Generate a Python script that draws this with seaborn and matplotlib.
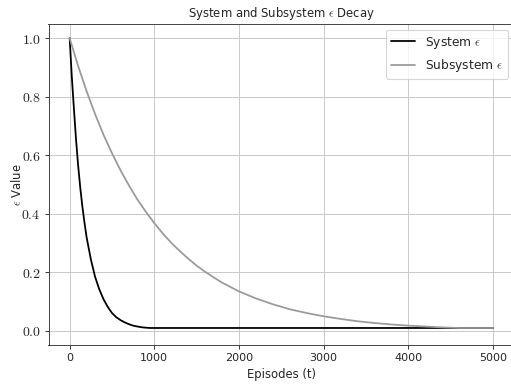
import matplotlib
matplotlib.use('Agg')
import matplotlib.pyplot as plt
import seaborn as sns
import pandas as pd

# values
system_t = [0, 25, 50, 75, 100, 125, 150, 175, 200, 250, 300, 350, 400, 450,
            500, 550, 600, 650, 700, 750, 800, 850, 900, 950, 5000]
system_eps = [1.0, 0.87, 0.76, 0.655, 0.565, 0.49, 0.425, 0.37, 0.32, 0.245,
              0.185, 0.142, 0.108, 0.082, 0.061, 0.047, 0.037, 0.029, 0.023,
              0.018, 0.015, 0.0125, 0.011, 0.01, 0.01]

sub_t = [0, 100, 200, 300, 400, 500, 600, 700, 800, 900, 1000, 1100, 1200,
         1300, 1400, 1500, 1600, 1700, 1800, 1900, 2000, 2200, 2400, 2600, 2800,
         3000, 3200, 3400, 3600, 3800, 4000, 4200, 4400, 4600, 5000]
sub_eps = [1.0, 0.905, 0.819, 0.741, 0.670, 0.607, 0.549, 0.497, 0.449, 0.407,
           0.368, 0.333, 0.301, 0.273, 0.247, 0.223, 0.202, 0.183, 0.165, 0.150,
           0.135, 0.111, 0.091, 0.074, 0.061, 0.050, 0.041, 0.033, 0.027, 0.022,
           0.018, 0.015, 0.012, 0.010, 0.010]

x_ticks = [0, 1000, 2000, 3000, 4000, 5000]
y_ticks = [0.0, 0.2, 0.4, 0.6, 0.8, 1.0]

sns.set_style('ticks')
plt.rcParams['font.family'] = ['DejaVu Sans']
plt.rcParams['mathtext.fontset'] = 'cm'

fig = plt.figure(figsize=(511 / 80, 387 / 80), dpi=80)
ax = fig.add_axes([48.5 / 511, 41.6 / 387, 465.6 / 511, 321.7 / 387])

sys_df = pd.DataFrame({'t': system_t, 'eps': system_eps})
sub_df = pd.DataFrame({'t': sub_t, 'eps': sub_eps})

sns.lineplot(data=sys_df, x='t', y='eps', color='black', linewidth=1.6,
             label=r'System $\epsilon$', ax=ax)
sns.lineplot(data=sub_df, x='t', y='eps', color='#9a9a9a', linewidth=1.6,
             label=r'Subsystem $\epsilon$', ax=ax)

ax.set_xlim(-250, 5250)
ax.set_ylim(-0.0495, 1.0495)
ax.set_xticks(x_ticks)
ax.set_xticklabels([str(v) for v in x_ticks], fontsize=10)
ax.set_yticks(y_ticks)
ax.set_yticklabels([f'${v:.1f}$' for v in y_ticks], fontsize=12.5)
ax.grid(True, color='#c4c4c4', linewidth=0.8)
ax.set_axisbelow(True)
for s in ax.spines.values():
    s.set_color('#333333')

ax.set_title(r'System and Subsystem $\epsilon$ Decay', fontsize=10.5)
ax.set_xlabel('Episodes (t)', fontsize=10.5)
ax.set_ylabel(r'$\epsilon$ Value', fontsize=10.5, labelpad=-2)
ax.legend(loc='upper right', fontsize=11)

fig.savefig('out.png', dpi=80)
